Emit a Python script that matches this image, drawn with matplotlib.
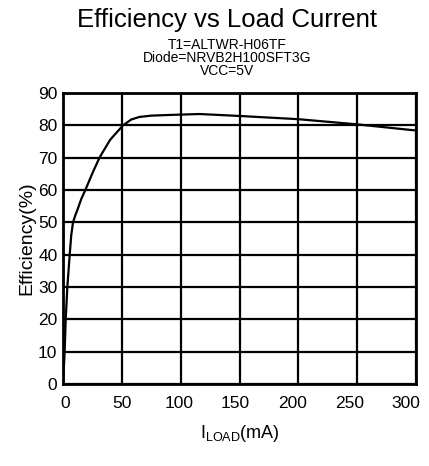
import matplotlib
matplotlib.use("Agg")
import matplotlib.pyplot as plt
from matplotlib.transforms import ScaledTranslation

plt.rcParams['font.family'] = ['Liberation Sans', 'DejaVu Sans']
plt.rcParams['mathtext.fontset'] = 'custom'
plt.rcParams['mathtext.rm'] = 'Liberation Sans'
plt.rcParams['mathtext.it'] = 'Liberation Sans:italic'

load_ma = [0, 0.6, 1.4, 2.3, 3.7, 5.7, 7.0, 8.5, 10.5, 12.4, 15.5, 19, 25, 31, 40, 51, 58, 65, 75, 90, 116, 150, 200, 250, 300]
efficiency = [0, 4, 10, 20, 30, 40, 46, 50, 52.2, 54, 57.2, 60, 65.2, 70, 75.5, 80, 81.8, 82.6, 83.0, 83.2, 83.5, 82.9, 81.9, 80.3, 78.4]

x_ticks = [0, 50, 100, 150, 200, 250, 300]
y_ticks = [0, 10, 20, 30, 40, 50, 60, 70, 80, 90]

fig = plt.figure(figsize=(4.29, 4.66), dpi=100)
ax = fig.add_axes([63/429, 1-384/466, (416-63)/429, (384-93)/466])

ax.plot(load_ma, efficiency, color='black', lw=1.6, solid_capstyle='round')
ax.set_xlim(0, 300)
ax.set_ylim(0, 90)
ax.set_xticks(x_ticks)
ax.set_yticks(y_ticks)
ax.grid(True, color='black', lw=1.6)
ax.set_axisbelow(True)
for s in ax.spines.values():
    s.set_linewidth(2)
ax.tick_params(length=0, labelsize=12.5)
ax.tick_params(axis='x', pad=9)
ax.tick_params(axis='y', pad=4)
ax.set_ylabel('Efficiency(%)', fontsize=14, labelpad=2)
ax.set_xlabel(r'I$_{\mathrm{LOAD}}$(mA)', fontsize=13, labelpad=8)

# the source chart's x tick labels drift slightly left of their gridlines
for i, lab in enumerate(ax.get_xticklabels()):
    dx = (2 - 2 * i) / 100
    lab.set_transform(lab.get_transform() + ScaledTranslation(dx, 0, fig.dpi_scale_trans))

cx = 227 / 429
fig.text(cx, 1 - 20/466, 'Efficiency vs Load Current', ha='center', va='center', fontsize=18.5)
fig.text(cx, 1 - 45/466, 'T1=ALTWR-H06TF', ha='center', va='center', fontsize=10)
fig.text(cx, 1 - 58/466, 'Diode=NRVB2H100SFT3G', ha='center', va='center', fontsize=10)
fig.text(cx, 1 - 71/466, 'VCC=5V', ha='center', va='center', fontsize=10)

fig.savefig('out.png', dpi=100)
